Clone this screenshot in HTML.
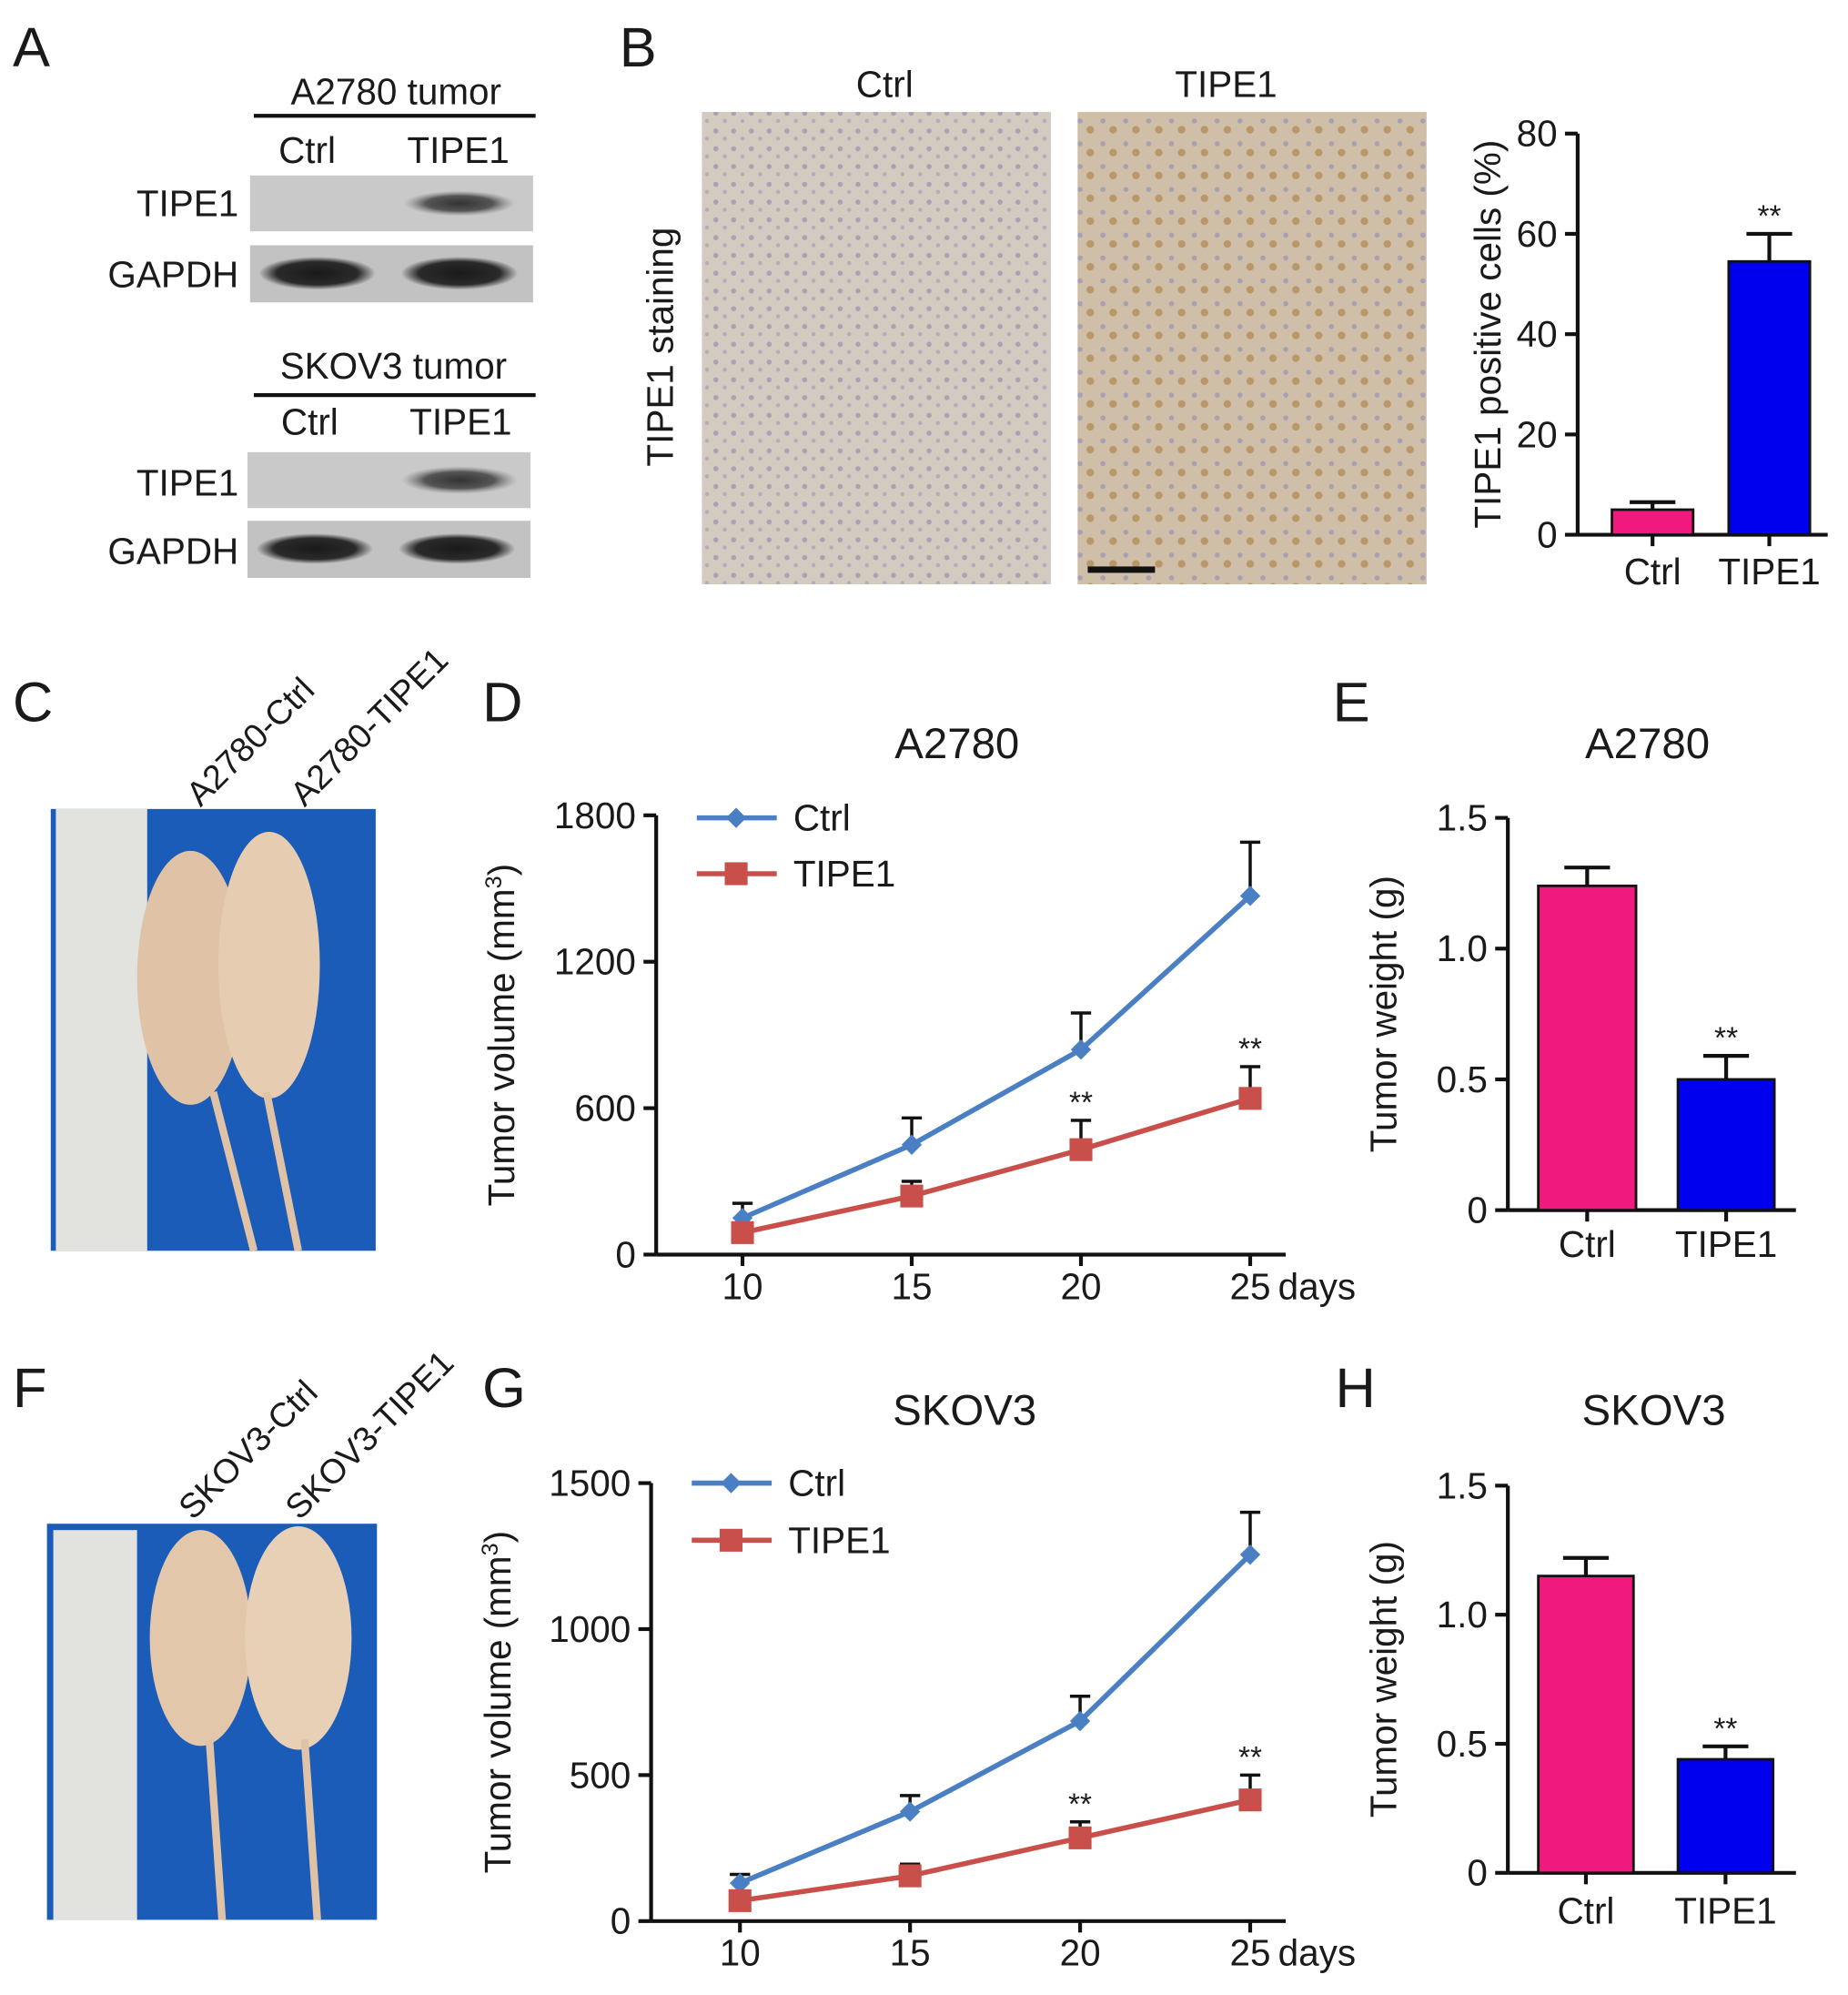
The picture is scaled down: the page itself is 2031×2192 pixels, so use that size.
<!DOCTYPE html>
<html><head><meta charset="utf-8"><style>
html,body{margin:0;padding:0;background:#fff}
svg{display:block}
text{font-family:"Liberation Sans",Arial,sans-serif;fill:#1a1a1a}
</style></head><body>
<svg id="fig" width="2031" height="2192" viewBox="0 0 1456 1571" xmlns="http://www.w3.org/2000/svg">
<defs>
<radialGradient id="band" cx="50%" cy="50%" r="50%"><stop offset="0" stop-color="#1a1a1a"/><stop offset="0.7" stop-color="#2a2a2a"/><stop offset="1" stop-color="#2a2a2a" stop-opacity="0"/></radialGradient>
<radialGradient id="bandw" cx="50%" cy="50%" r="50%"><stop offset="0" stop-color="#333"/><stop offset="0.6" stop-color="#555"/><stop offset="1" stop-color="#888" stop-opacity="0"/></radialGradient>
<pattern id="cells" width="14" height="14" patternUnits="userSpaceOnUse"><rect width="14" height="14" fill="#d3cbbf"/><circle cx="4" cy="5" r="2" fill="#a9a2b5"/><circle cx="11" cy="11" r="1.6" fill="#b3acbd"/></pattern>
<pattern id="cells2" width="18" height="18" patternUnits="userSpaceOnUse"><rect width="18" height="18" fill="#cfbfa8"/><circle cx="5" cy="5" r="2" fill="#a7a0b0"/><circle cx="13" cy="12" r="3" fill="#b0864f" opacity="0.7"/></pattern>
</defs>

<g>
<text x="10" y="52" font-size="44">A</text>
<text x="312" y="82" font-size="29" text-anchor="middle">A2780 tumor</text>
<line x1="200" y1="91" x2="422" y2="91" stroke="#111" stroke-width="3"/>
<text x="242" y="128" font-size="29" text-anchor="middle">Ctrl</text>
<text x="361" y="128" font-size="29" text-anchor="middle">TIPE1</text>
<rect x="197" y="138" width="223" height="44" fill="#c9c9c9"/>
<ellipse cx="362" cy="160" rx="44" ry="10" fill="url(#bandw)"/>
<rect x="197" y="193" width="223" height="45" fill="#c2c2c2"/>
<ellipse cx="250" cy="215" rx="46" ry="13" fill="url(#band)"/>
<ellipse cx="362" cy="215" rx="46" ry="13" fill="url(#band)"/>
<text x="188" y="170" font-size="29" text-anchor="end">TIPE1</text>
<text x="188" y="226" font-size="29" text-anchor="end">GAPDH</text>
<text x="310" y="298" font-size="29" text-anchor="middle">SKOV3 tumor</text>
<line x1="200" y1="311" x2="422" y2="311" stroke="#111" stroke-width="3"/>
<text x="244" y="342" font-size="29" text-anchor="middle">Ctrl</text>
<text x="363" y="342" font-size="29" text-anchor="middle">TIPE1</text>
<rect x="195" y="356" width="223" height="44" fill="#c9c9c9"/>
<ellipse cx="362" cy="378" rx="46" ry="11" fill="url(#bandw)"/>
<rect x="195" y="410" width="223" height="45" fill="#c2c2c2"/>
<ellipse cx="248" cy="432" rx="46" ry="12" fill="url(#band)"/>
<ellipse cx="360" cy="432" rx="46" ry="12" fill="url(#band)"/>
<text x="188" y="390" font-size="29" text-anchor="end">TIPE1</text>
<text x="188" y="444" font-size="29" text-anchor="end">GAPDH</text>
</g>

<g>
<text x="488" y="52" font-size="44">B</text>
<text x="697" y="76" font-size="29" text-anchor="middle">Ctrl</text>
<text x="966" y="76" font-size="29" text-anchor="middle">TIPE1</text>
<text transform="translate(530,273) rotate(-90)" font-size="29" text-anchor="middle">TIPE1 staining</text>
<rect x="553" y="88" width="275" height="372" fill="url(#cells)"/>
<rect x="849" y="88" width="275" height="372" fill="url(#cells2)"/>
<rect x="857" y="446" width="53" height="5" fill="#111"/>
</g>

<g>
<text x="10" y="568" font-size="44">C</text>
<text transform="translate(158,636) rotate(-45)" font-size="27">A2780-Ctrl</text>
<text transform="translate(240,636) rotate(-45)" font-size="27">A2780-TIPE1</text>
<rect x="40" y="637" width="256" height="348" fill="#1b5cb8"/>
<rect x="44" y="637" width="72" height="348" fill="#e2e2de"/>
<ellipse cx="150" cy="770" rx="42" ry="100" fill="#e0c3a6"/>
<ellipse cx="212" cy="760" rx="40" ry="105" fill="#e6cdb2"/>
<path d="M168 860 L200 985 M210 860 L235 985" stroke="#e0c3a6" stroke-width="6" fill="none"/>
</g>
<g>
<text x="10" y="1108" font-size="44">F</text>
<text transform="translate(152,1198) rotate(-45)" font-size="27">SKOV3-Ctrl</text>
<text transform="translate(236,1198) rotate(-45)" font-size="27">SKOV3-TIPE1</text>
<rect x="37" y="1200" width="260" height="312" fill="#1b5cb8"/>
<rect x="42" y="1205" width="66" height="307" fill="#e2e2de"/>
<ellipse cx="158" cy="1290" rx="40" ry="85" fill="#e3c7ab"/>
<ellipse cx="235" cy="1290" rx="42" ry="88" fill="#e8d0b6"/>
<path d="M165 1370 L175 1512 M240 1370 L250 1512" stroke="#e0c3a6" stroke-width="6" fill="none"/>
</g>

<text x="380" y="568" font-size="44">D</text>
<text x="1050" y="568" font-size="44">E</text>
<text x="380" y="1108" font-size="44">G</text>
<text x="1052" y="1108" font-size="44">H</text>

<g id="charts"></g>
</svg>
<script>
const bCats = ["Ctrl","TIPE1"];
const bVals = [5, 54.5];
const bErrs = [6.5, 60];
const bTicks = [0,20,40,60,80];
const dDays = [10,15,20,25];
const dCtrl = [150,450,840,1470];
const dCtrlErr = [210,560,990,1690];
const dTipe = [90,240,430,640];
const dTipeErr = [110,300,550,770];
const dTicks = [0,600,1200,1800];
const eVals = [1.24, 0.5];
const eErrs = [1.31, 0.59];
const eTicks = [0,0.5,1.0,1.5];
const gCtrl = [130,375,685,1255];
const gCtrlErr = [160,430,770,1400];
const gTipe = [70,155,285,415];
const gTipeErr = [85,195,340,500];
const gTicks = [0,500,1000,1500];
const hVals = [1.15, 0.44];
const hErrs = [1.22, 0.49];
const hTicks = [0,0.5,1.0,1.5];

const NS="http://www.w3.org/2000/svg";
const root=document.getElementById('charts');
function mk(tag,attrs,parent,txt){const e=document.createElementNS(NS,tag);for(const k in attrs)e.setAttribute(k,attrs[k]);if(txt!==undefined)e.textContent=txt;(parent||root).appendChild(e);return e;}

function axesY(g,x0,yTop,yBot,vmax,ticks,fmt,ytitle,tx){
  const y=v=>yBot-(v/vmax)*(yBot-yTop);
  const ax=mk('line',{x1:x0,y1:yTop,x2:x0,y2:yBot,stroke:'#111','stroke-width':3},g);
  
  
  ticks.forEach(t=>{
    mk('line',{x1:x0-10,y1:y(t),x2:x0,y2:y(t),stroke:'#111','stroke-width':3},g);
    const tl=mk('text',{x:x0-16,y:y(t)+10,'font-size':29,'text-anchor':'end'},g,fmt(t));
    
    
  });
  const mid=(yTop+yBot)/2;
  const tt=mk('text',{transform:`translate(${tx},${mid}) rotate(-90)`,'font-size':29,'text-anchor':'middle'},g,'');
  tt.innerHTML=ytitle;
  
  
  return y;
}

function barChart(name,x0,x1,yTop,yBot,vmax,ticks,fmt,ytitle,tx,vals,errs,bars,labY,title){
  const g=mk('g',{});
  
  
  if(title){const t=mk('text',{x:title[1],y:title[2],'font-size':34,'text-anchor':'middle'},g,title[0]);
    
    }
  const y=axesY(g,x0,yTop,yBot,vmax,ticks,fmt,ytitle,tx);
  const xa=mk('line',{x1:x0,y1:yBot,x2:x1,y2:yBot,stroke:'#111','stroke-width':3},g);
  
  
  const colors=['#f0197d','#0000ee'];
  vals.forEach((v,i)=>{
    const [bx,bw]=bars[i];const cx=bx+bw/2;
    mk('line',{x1:cx,y1:y(v),x2:cx,y2:y(errs[i]),stroke:'#111','stroke-width':3},g);
    mk('line',{x1:cx-18,y1:y(errs[i]),x2:cx+18,y2:y(errs[i]),stroke:'#111','stroke-width':3},g);
    const r=mk('rect',{x:bx,y:y(v),width:bw,height:yBot-y(v),fill:colors[i],stroke:'#111','stroke-width':2},g);
    
    
    mk('line',{x1:cx,y1:yBot,x2:cx,y2:yBot+9,stroke:'#111','stroke-width':3},g);
    const l=mk('text',{x:cx,y:labY,'font-size':29,'text-anchor':'middle'},g,bCats[i]);
    
    
  });
  const s=mk('text',{x:bars[1][0]+bars[1][1]/2,y:y(errs[1])-6,'font-size':24,'text-anchor':'middle'},g,'**');
  
  
}

function lineChart(name,x0,x1,yTop,yBot,vmax,ticks,ytitle,tx,ctrl,ctrlE,tipe,tipeE,xpos,legY,title,sigIdx){
  const g=mk('g',{});
  
  
  const t=mk('text',{x:title[1],y:title[2],'font-size':34,'text-anchor':'middle'},g,title[0]);
  
  
  const y=axesY(g,x0,yTop,yBot,vmax,ticks,v=>String(v),ytitle,tx);
  const xa=mk('line',{x1:x0,y1:yBot,x2:x1,y2:yBot,stroke:'#111','stroke-width':3},g);
  
  
  const x=d=>xpos[0]+(d-10)/15*(xpos[1]-xpos[0]);
  dDays.forEach((d,i)=>{
    mk('line',{x1:x(d),y1:yBot,x2:x(d),y2:yBot+9,stroke:'#111','stroke-width':3},g);
    const l=mk('text',{x:x(d),y:yBot+35,'font-size':29,'text-anchor':'middle'},g,String(d));
    
    
  });
  mk('text',{x:x(25)+22,y:yBot+35,'font-size':29},g,'days');
  const series=[[ctrl,ctrlE,'#4a7fc4','diamond','Ctrl'],[tipe,tipeE,'#c9504a','square','TIPE1']];
  series.forEach(([vals,errs,col,shape,lab],si)=>{
    vals.forEach((v,i)=>{
      mk('line',{x1:x(dDays[i]),y1:y(v),x2:x(dDays[i]),y2:y(errs[i]),stroke:'#111','stroke-width':2.5},g);
      mk('line',{x1:x(dDays[i])-8,y1:y(errs[i]),x2:x(dDays[i])+8,y2:y(errs[i]),stroke:'#111','stroke-width':2.5},g);
    });
    const p=mk('polyline',{points:vals.map((v,i)=>x(dDays[i])+','+y(v)).join(' '),fill:'none',stroke:col,'stroke-width':4},g);
    
    
    const marker=(cx,cy,par)=>{
      if(shape==='diamond')return mk('polygon',{points:`${cx},${cy-8} ${cx+8},${cy} ${cx},${cy+8} ${cx-8},${cy}`,fill:col},par);
      return mk('rect',{x:cx-9,y:cy-9,width:18,height:18,fill:col},par);
    };
    vals.forEach((v,i)=>{
      const m=marker(x(dDays[i]),y(v),g);
      
      
    });
    const ly=legY[si];
    const le=mk('g',{},g);
    
    
    mk('line',{x1:x0+32,y1:ly,x2:x0+95,y2:ly,stroke:col,'stroke-width':4},le);
    marker(x0+63,ly,le);
    mk('text',{x:x0+108,y:ly+10,'font-size':29},le,lab);
  });
  sigIdx.forEach(i=>{
    const s=mk('text',{x:x(dDays[i]),y:y(tipeE[i])-6,'font-size':24,'text-anchor':'middle'},g,'**');
    
    
  });
}

barChart('chart-b-positive-cells',1243,1440,105,421,80,bTicks,v=>String(v),'TIPE1 positive cells (%)',1182,bVals,bErrs,[[1270,64],[1362,64]],460,null);
lineChart('chart-d-a2780-volume',517,1013,642,988,1800,dTicks,'Tumor volume (mm<tspan dy="-10" font-size="18">3</tspan><tspan dy="10">)</tspan>',405,dCtrl,dCtrlErr,dTipe,dTipeErr,[585,985],[644,688],['A2780',754,597],[2,3]);
barChart('chart-e-a2780-weight',1188,1415,644,953,1.5,eTicks,v=>v===0?'0':v.toFixed(1),'Tumor weight (g)',1100,eVals,eErrs,[[1212,77],[1322,76]],990,['A2780',1298,597]);
lineChart('chart-g-skov3-volume',513,1013,1168,1513,1500,gTicks,'Tumor volume (mm<tspan dy="-10" font-size="18">3</tspan><tspan dy="10">)</tspan>',402,gCtrl,gCtrlErr,gTipe,gTipeErr,[583,985],[1168,1213],['SKOV3',760,1122],[2,3]);
barChart('chart-h-skov3-weight',1188,1415,1170,1475,1.5,hTicks,v=>v===0?'0':v.toFixed(1),'Tumor weight (g)',1100,hVals,hErrs,[[1212,75],[1322,75]],1515,['SKOV3',1303,1122]);
</script>
</body></html>
